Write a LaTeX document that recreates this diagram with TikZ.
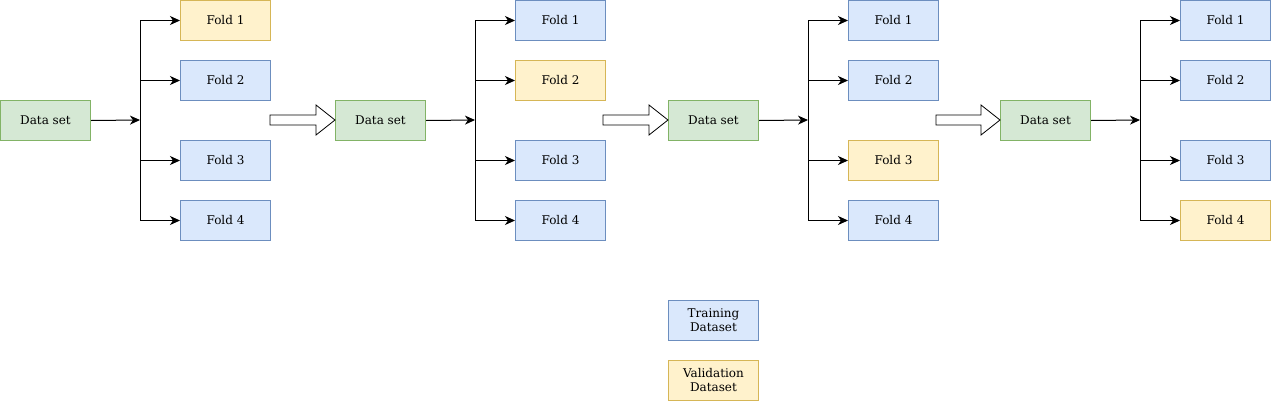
\documentclass[tikz,border=0pt]{standalone}
\usepackage{fontspec}
\setmainfont{DejaVu Serif}
\usetikzlibrary{arrows.meta}
\definecolor{bfill}{HTML}{DAE8FC}\definecolor{bdraw}{HTML}{6C8EBF}
\definecolor{yfill}{HTML}{FFF2CC}\definecolor{ydraw}{HTML}{D6B656}
\definecolor{gfill}{HTML}{D5E8D4}\definecolor{gdraw}{HTML}{82B366}
\begin{document}
\begin{tikzpicture}[x=1pt,y=-1pt,line width=1pt,
  box/.style={minimum width=90pt,minimum height=40pt,inner sep=0pt,draw,align=center,font=\fontsize{12}{14}\selectfont,anchor=north west},
  train/.style={box,fill=bfill,draw=bdraw},
  valid/.style={box,fill=yfill,draw=ydraw},
  data/.style={box,fill=gfill,draw=gdraw},
  conn/.style={-{Stealth[length=10pt,width=9pt,inset=3pt]},black},
  blockarrow/.style={draw=black,fill=white,line width=0.8pt}]
\useasboundingbox (0,0) rectangle (1272,402);
\foreach \g/\ox/\v in {a/0/1,b/335/2,c/668/3,d/1000/4}{
  \node[data] (\g d) at (\ox,100) {Data set};
  \foreach \i/\y in {1/0,2/60,3/140,4/200}{
    \ifnum\i=\v
      \node[valid] (\g f\i) at (\ox+180,\y) {Fold \i};
    \else
      \node[train] (\g f\i) at (\ox+180,\y) {Fold \i};
    \fi
  }
  \coordinate (\g j) at (\ox+140,120);
  \draw[conn] (\g d.east) -- (\g j);
  \foreach \i in {1,2,3,4}{
    \draw[conn] (\g j) |- (\g f\i.west);
  }
}
\foreach \s/\e in {270/335,603/668,936/1000}{
  \draw[blockarrow] (\s,115) -- (\e-19,115) -- (\e-19,105) -- (\e,120) -- (\e-19,135) -- (\e-19,125) -- (\s,125) -- cycle;
}
\node[train] (lt) at (668,300) {Training\\Dataset};
\node[valid] (lv) at (668,360) {Validation\\Dataset};
\end{tikzpicture}
\end{document}
